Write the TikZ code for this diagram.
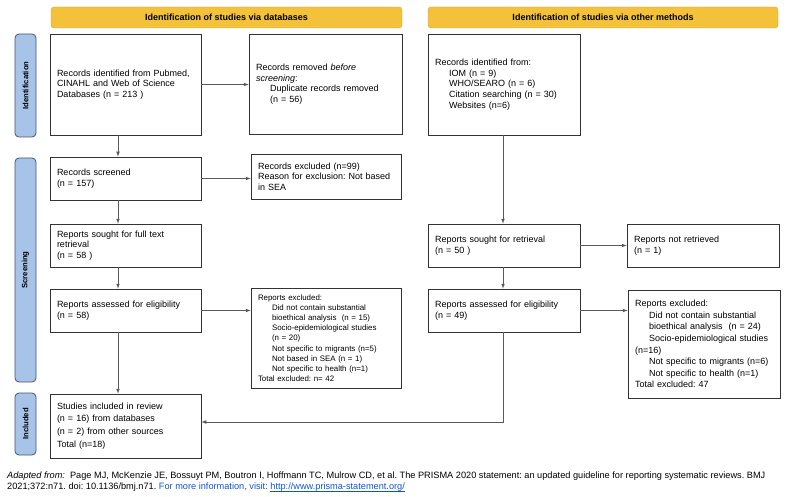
\documentclass[tikz,border=0pt]{standalone}
\usepackage{fontspec}
\setmainfont{Liberation Sans}
\usetikzlibrary{shapes, arrows}
\definecolor{headyellow}{HTML}{F3C13A}
\definecolor{headedge}{HTML}{D9A82E}
\definecolor{sideblue}{HTML}{A7C4E8}
\definecolor{sideedge}{HTML}{46556B}
\definecolor{linkblue}{HTML}{1155CC}
\definecolor{linegray}{HTML}{5A5A5A}
\frenchspacing

\begin{document}
\begin{tikzpicture}[x=1pt, y=-1pt,
  box/.style = {draw=black!80, line width=0.7pt, align=left, inner xsep=7pt, text width=137pt, minimum height=43pt, font=\fontsize{9}{10.6}\selectfont},
  head/.style = {draw=headedge, fill=headyellow, rounded corners=3pt, minimum height=21pt, font=\bfseries\fontsize{9}{11}\selectfont},
  side/.style = {draw=sideedge, fill=sideblue, rounded corners=4pt, rotate=90, minimum height=21pt, line width=0.8pt, font=\bfseries\fontsize{7.7}{9}\selectfont},
  flow/.style = {draw=linegray, line width=0.7pt, -latex}]
            \useasboundingbox (0, 0) rectangle (786, 497);

            % phase labels
            \node[side, minimum width=103pt] at (25.5, 85.5) (idside) {Identification};
            \node[side, minimum width=224pt] at (25.5, 270) (scside) {Screening};
            \node[side, minimum width=62pt] at (25.5, 424) (inside) {Included};

            \node[head, minimum width=351pt] at (226.5, 17.5) (dbhead) {Identification of studies via databases};
            \node[head, minimum width=350pt] at (603, 17.5) (othhead) {Identification of studies via other methods};

            % databases
            \node[box, minimum height=101pt] at (125.5, 84.5) (recdb) {Records identified from Pubmed,\\CINAHL and Web of Science\\Databases (n = 213 )};
            \node[box, text width=139pt, minimum height=100pt] at (325.5, 84) (removed) {Records removed \textit{before}\\\textit{screening}:\\\hspace*{14pt}Duplicate records removed\\\hspace*{14pt}(n = 56)\\[4pt]};
            \node[box] at (125.5, 178.5) (screened) {Records screened\\(n = 157)};
            \node[box, text width=136pt, minimum height=45pt] at (326, 176.5) (excl) {Records excluded (n=99)\\Reason for exclusion: Not based\\in SEA};
            \node[box] at (125.5, 245.5) (soughtdb) {Reports sought for full text\\retrieval\\(n = 58 )};
            \node[box] at (125.5, 310.5) (assessdb) {Reports assessed for eligibility\\(n = 58)};
            \node[box, text width=136pt, minimum height=100pt, font=\fontsize{7.9}{10.2}\selectfont] at (326, 338) (excldb) {Reports excluded:\\\hspace*{14pt}Did not contain substantial\\\hspace*{14pt}bioethical analysis\ \ (n = 15)\\\hspace*{14pt}Socio-epidemiological studies\\\hspace*{14pt}(n = 20)\\\hspace*{14pt}Not specific to migrants (n=5)\\\hspace*{14pt}Not based in SEA (n = 1)\\\hspace*{14pt}Not specific to health (n=1)\\Total excluded: n= 42};
            \node[box, minimum height=64pt, font=\fontsize{9}{12.7}\selectfont] at (125.5, 426) (incl) {Studies included in review\\(n = 16) from databases\\(n = 2) from other sources\\Total (n=18)};

            % other methods
            \node[box, text width=138pt, minimum height=101pt] at (504, 84.5) (recoth) {Records identified from:\\\hspace*{14pt}IOM (n = 9)\\\hspace*{14pt}WHO/SEARO (n = 6)\\\hspace*{14pt}Citation searching (n = 30)\\\hspace*{14pt}Websites (n=6)\\[6pt]};
            \node[box, text width=138pt] at (504, 245.5) (soughtoth) {Reports sought for retrieval\\(n = 50 )};
            \node[box, text width=138pt] at (703, 245.5) (notret) {Reports not retrieved\\(n = 1)};
            \node[box, text width=138pt] at (504, 310.5) (assessoth) {Reports assessed for eligibility\\(n = 49)};
            \node[box, text width=138pt, minimum height=108pt, font=\fontsize{9}{11.6}\selectfont] at (704, 344) (excloth) {Reports excluded:\\\hspace*{14pt}Did not contain substantial\\\hspace*{14pt}bioethical analysis\ \ (n = 24)\\\hspace*{14pt}Socio-epidemiological studies\\(n=16)\\\hspace*{14pt}Not specific to migrants (n=6)\\\hspace*{14pt}Not specific to health (n=1)\\Total excluded: 47};

            \draw[flow] (recdb.east) -- (recdb.east -| removed.west);
            \draw[flow] ([xshift=-7.5pt]recdb.south) -- ([xshift=-7.5pt]screened.north);
            \draw[flow] (screened.east) -- (screened.east -| excl.west);
            \draw[flow] ([xshift=-7.5pt]screened.south) -- ([xshift=-7.5pt]soughtdb.north);
            \draw[flow] ([xshift=-7.5pt]soughtdb.south) -- ([xshift=-7.5pt]assessdb.north);
            \draw[flow] (assessdb.east) -- (assessdb.east -| excldb.west);
            \draw[flow] ([xshift=-7.5pt]assessdb.south) -- ([xshift=-7.5pt]incl.north);
            \draw[flow] ([xshift=-1pt]recoth.south) -- ([xshift=-1pt]soughtoth.north);
            \draw[flow] (soughtoth) -- (notret);
            \draw[flow] ([xshift=-1pt]soughtoth.south) -- ([xshift=-1pt]assessoth.north);
            \draw[flow] (assessoth.east) -- (assessoth.east -| excloth.west);
            \draw[flow] ([xshift=-1pt]assessoth.south) |- ([yshift=4pt]incl.east);

            \node[anchor=north west, inner sep=0pt, align=left, font=\fontsize{9.2}{11}\selectfont] at (7, 472) (note) {\textit{Adapted from:}\ \ Page MJ, McKenzie JE, Bossuyt PM, Boutron I, Hoffmann TC, Mulrow CD, et al. The PRISMA 2020 statement: an updated guideline for reporting systematic reviews. BMJ\\2021;372:n71. doi: 10.1136/bmj.n71. \textcolor{linkblue}{For more information, visit: \underline{\smash{http://www.prisma-statement.org/}}}};
\end{tikzpicture}
\end{document}
